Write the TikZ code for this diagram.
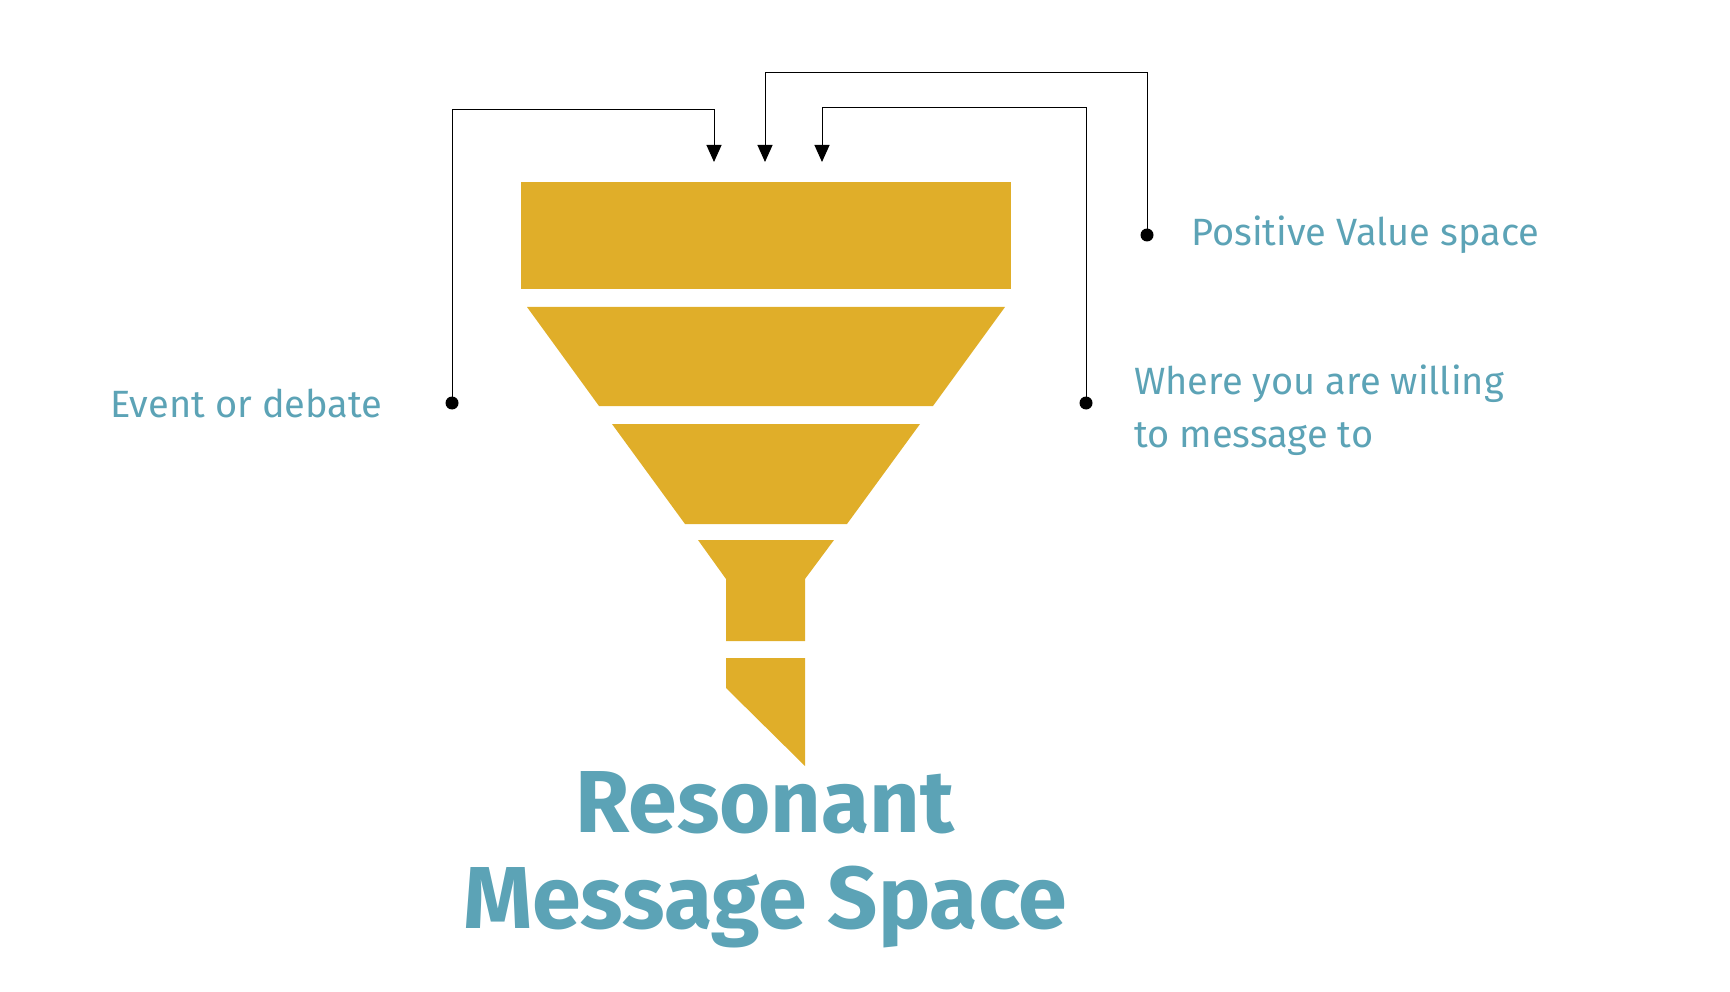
\documentclass[tikz,border=0pt]{standalone}
\usepackage{fontspec}
\setmainfont{Fira Sans}
\usetikzlibrary{arrows.meta}
\definecolor{gold}{HTML}{E0AE29}
\definecolor{teal}{HTML}{5CA3B6}
\begin{document}
\begin{tikzpicture}[x=1pt,y=-1pt,
  lbl/.style={text=teal,font=\fontsize{38}{50}\selectfont,inner sep=0pt},
  dot/.style={circle,fill=black,inner sep=0pt,minimum size=13pt},
  conn/.style={draw=black,line width=1pt,-{Triangle[length=17pt,width=15pt]}}]
\useasboundingbox (0,0) rectangle (1730,992);
\fill[gold] (521,182) rectangle (1011,289);
\fill[gold] (527,307) -- (1005,307) -- (933,406) -- (599,406) -- cycle;
\fill[gold] (612,424) -- (920,424) -- (847,524) -- (685,524) -- cycle;
\fill[gold] (698,540) -- (834,540) -- (805,579) -- (805,641) -- (726,641) -- (726,579) -- cycle;
\fill[gold] (726,658) -- (805,658) -- (805,766) -- (726,688) -- cycle;
\node[text=teal,font=\fontsize{88}{96}\selectfont\bfseries,align=center,inner sep=0pt] (title) at (765,860) {Resonant\\Message Space};
\node[dot] (d1) at (452,403) {};
\node[dot] (d2) at (1147,235) {};
\node[dot] (d3) at (1086,403) {};
\node[lbl,anchor=west] (t1) at (110,403) {Event or debate};
\node[lbl,anchor=west] (t2) at (1191,235) {Positive Value space};
\node[lbl,anchor=west,align=left,font=\fontsize{38}{53}\selectfont] (t3) at (1134,410) {Where you are willing\\to message to};
\coordinate (a1) at (714,162);
\coordinate (a2) at (765,162);
\coordinate (a3) at (822,162);
\draw[conn] (d1.center) |- (714,110) -- (a1);
\draw[conn] (d2.center) |- (765,73) -- (a2);
\draw[conn] (d3.center) |- (822,108) -- (a3);
\end{tikzpicture}
\end{document}
